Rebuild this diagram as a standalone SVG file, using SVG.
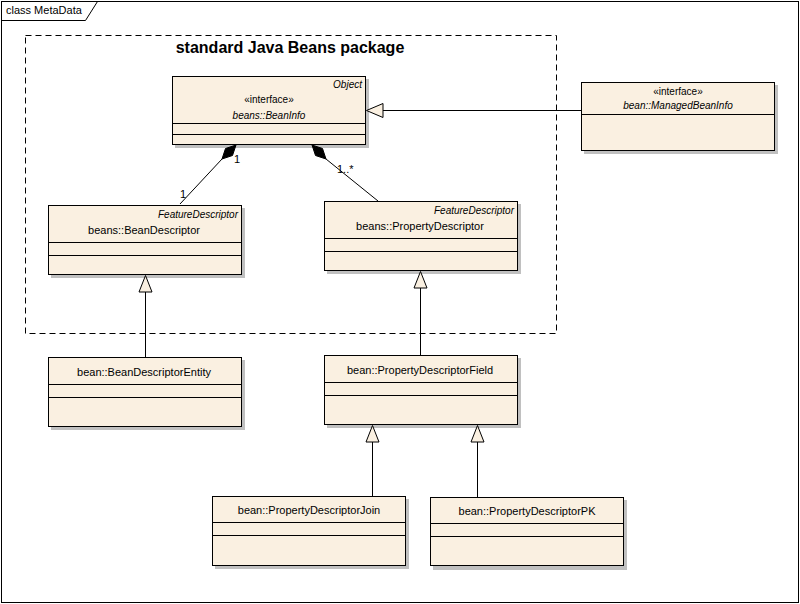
<svg xmlns="http://www.w3.org/2000/svg" width="800" height="604" viewBox="0 0 800 604">
<style>
  text { font-family: "Liberation Sans", Arial, sans-serif; fill: #000; }
  .nm { font-size: 11px; text-anchor: middle; }
  .it { font-style: italic; }
  .sm { font-size: 10px; }
  .r { text-anchor: end; }
  .box { fill: #FAF0E1; stroke: #000; stroke-width: 1; }
  .sh { fill: #C0C0C0; }
  .sep { stroke: #000; stroke-width: 1; }
  .ln { stroke: #000; stroke-width: 1; fill: none; }
  .tri { fill: #FAF0E1; stroke: #000; stroke-width: 1; }
  .dia { fill: #000; stroke: #000; stroke-width: 1; }
</style>
<rect x="0" y="0" width="800" height="604" fill="#fff"/>
<!-- frame -->
<g id="frame">
  <rect x="1.5" y="1.5" width="797" height="601" fill="none" stroke="#000"/>
  <path d="M1.5 20.5 H85.5 L97.5 1.5" fill="none" stroke="#000"/>
  <text x="6" y="14" font-size="11">class MetaData</text>
</g>
<!-- package -->
<g id="package">
  <rect x="25.5" y="35.5" width="531" height="298" fill="none" stroke="#000" stroke-dasharray="6,4"/>
  <text x="290" y="53" font-size="16" font-weight="bold" text-anchor="middle">standard Java Beans package</text>
</g>

<g id="BeanInfo">
  <rect class="sh" x="175" y="79" width="194" height="69"/>
  <rect class="box" x="172.5" y="76.5" width="193" height="68"/>
  <line class="sep" x1="172.5" y1="123.5" x2="365.5" y2="123.5"/>
  <line class="sep" x1="172.5" y1="134.5" x2="365.5" y2="134.5"/>
  <text class="sm it r" x="362" y="88">Object</text>
  <text class="sm" x="269" y="103" text-anchor="middle">«interface»</text>
  <text class="nm it sm" x="269" y="119">beans::BeanInfo</text>
</g>

<g id="ManagedBeanInfo">
  <rect class="sh" x="584" y="85" width="194" height="69"/>
  <rect class="box" x="581.5" y="82.5" width="193" height="68"/>
  <line class="sep" x1="581.5" y1="114.5" x2="774.5" y2="114.5"/>
  <text class="sm" x="678" y="95" text-anchor="middle">«interface»</text>
  <text class="nm it sm" x="678" y="109">bean::ManagedBeanInfo</text>
</g>

<g id="BeanDescriptor">
  <rect class="sh" x="51" y="208" width="194" height="70"/>
  <rect class="box" x="48.5" y="205.5" width="193" height="69"/>
  <line class="sep" x1="48.5" y1="242.5" x2="241.5" y2="242.5"/>
  <line class="sep" x1="48.5" y1="255.5" x2="241.5" y2="255.5"/>
  <text class="sm it r" x="238" y="218">FeatureDescriptor</text>
  <text class="nm" x="144" y="234">beans::BeanDescriptor</text>
</g>

<g id="PropertyDescriptor">
  <rect class="sh" x="327" y="204" width="194" height="70"/>
  <rect class="box" x="324.5" y="201.5" width="193" height="69"/>
  <line class="sep" x1="324.5" y1="238.5" x2="517.5" y2="238.5"/>
  <line class="sep" x1="324.5" y1="251.5" x2="517.5" y2="251.5"/>
  <text class="sm it r" x="514" y="214">FeatureDescriptor</text>
  <text class="nm" x="420" y="230">beans::PropertyDescriptor</text>
</g>

<g id="BeanDescriptorEntity">
  <rect class="sh" x="51" y="360" width="194" height="70"/>
  <rect class="box" x="48.5" y="357.5" width="193" height="69"/>
  <line class="sep" x1="48.5" y1="384.5" x2="241.5" y2="384.5"/>
  <line class="sep" x1="48.5" y1="397.5" x2="241.5" y2="397.5"/>
  <text class="nm" x="144" y="376">bean::BeanDescriptorEntity</text>
</g>

<g id="PropertyDescriptorField">
  <rect class="sh" x="327" y="358" width="194" height="70"/>
  <rect class="box" x="324.5" y="355.5" width="193" height="69"/>
  <line class="sep" x1="324.5" y1="382.5" x2="517.5" y2="382.5"/>
  <line class="sep" x1="324.5" y1="395.5" x2="517.5" y2="395.5"/>
  <text class="nm" x="420" y="374">bean::PropertyDescriptorField</text>
</g>

<g id="PropertyDescriptorJoin">
  <rect class="sh" x="215" y="499" width="194" height="70"/>
  <rect class="box" x="212.5" y="496.5" width="193" height="69"/>
  <line class="sep" x1="212.5" y1="522.5" x2="405.5" y2="522.5"/>
  <line class="sep" x1="212.5" y1="535.5" x2="405.5" y2="535.5"/>
  <text class="nm" x="309" y="514">bean::PropertyDescriptorJoin</text>
</g>

<g id="PropertyDescriptorPK">
  <rect class="sh" x="433" y="500" width="194" height="70"/>
  <rect class="box" x="430.5" y="497.5" width="193" height="68"/>
  <line class="sep" x1="430.5" y1="523.5" x2="623.5" y2="523.5"/>
  <line class="sep" x1="430.5" y1="536.5" x2="623.5" y2="536.5"/>
  <text class="nm" x="527" y="515">bean::PropertyDescriptorPK</text>
</g>

<g id="connectors">
  <!-- ManagedBeanInfo -> BeanInfo -->
  <line class="ln" x1="581" y1="110.5" x2="383" y2="110.5"/>
  <polygon class="tri" points="366.5,110.5 383,103.5 383,117.5"/>
  <!-- BeanInfo <>- BeanDescriptor -->
  <line class="ln" x1="222" y1="159" x2="180" y2="204"/>
  <polygon class="dia" points="236,145 232.5,155.5 222,159 225.5,148.5"/>
  <text x="234" y="163" font-size="11">1</text>
  <text x="180" y="198" font-size="11">1</text>
  <!-- BeanInfo <>- PropertyDescriptor -->
  <line class="ln" x1="326" y1="159" x2="378" y2="201"/>
  <polygon class="dia" points="312,145 322.5,148.5 326,159 315.5,155.5"/>
  <text x="337" y="173" font-size="11">1..*</text>
  <!-- BeanDescriptorEntity -> BeanDescriptor -->
  <line class="ln" x1="145.5" y1="357" x2="145.5" y2="292"/>
  <polygon class="tri" points="145.5,275.5 139,292 152,292"/>
  <!-- PropertyDescriptorField -> PropertyDescriptor -->
  <line class="ln" x1="420.5" y1="355" x2="420.5" y2="288"/>
  <polygon class="tri" points="420.5,271.5 414,288 427,288"/>
  <!-- Join -> Field -->
  <line class="ln" x1="372.5" y1="496" x2="372.5" y2="442"/>
  <polygon class="tri" points="372.5,425.5 366,442 379,442"/>
  <!-- PK -> Field -->
  <line class="ln" x1="477.5" y1="497" x2="477.5" y2="442"/>
  <polygon class="tri" points="477.5,425.5 471,442 484,442"/>
</g>
</svg>
